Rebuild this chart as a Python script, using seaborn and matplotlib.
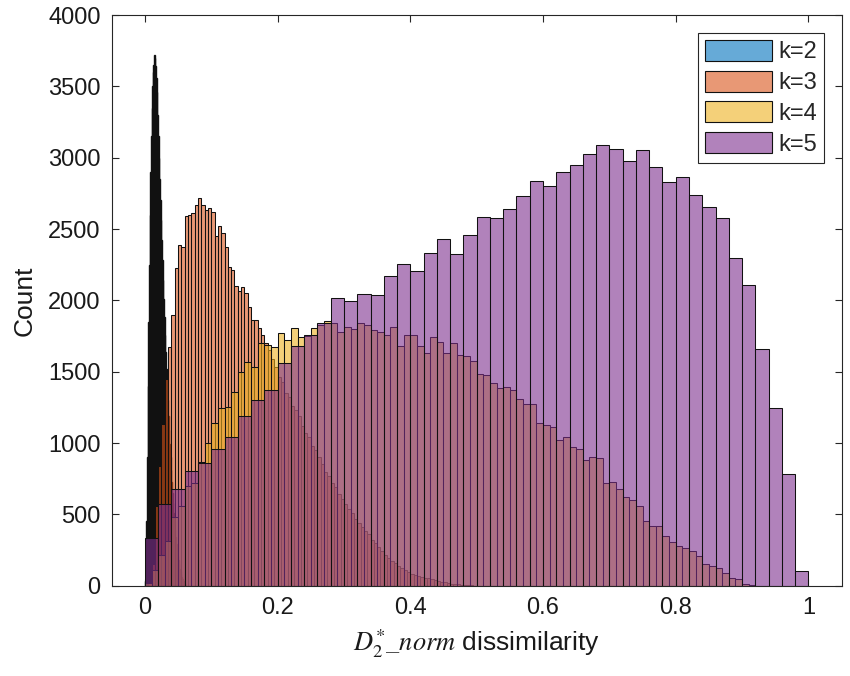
import matplotlib
matplotlib.use('Agg')
import matplotlib.pyplot as plt
import numpy as np
import pandas as pd
import seaborn as sns
from matplotlib.colors import to_rgba
from matplotlib.patches import Patch
from matplotlib.ticker import FuncFormatter

# bin widths (every series starts at 0)
width_k2 = 0.001
width_k3 = 0.005
width_k4 = 0.01
width_k5 = 0.02

counts_k2 = [30, 150, 450, 900, 1400, 1850, 2250, 2600, 2900, 3150,
             3350, 3500, 3600, 3650, 3720, 3700, 3640, 3560, 3460, 3300,
             3150, 3000, 2850, 2700, 2560, 2420, 2280, 2140, 2010, 1880,
             1760, 1640, 1520, 1410, 1300, 1190, 1090, 990, 900, 810,
             730, 650, 580, 510, 450, 390, 340, 290, 250, 210,
             180, 150, 120, 100, 80, 60, 50, 40, 30, 20, 15]

counts_k3 = [0, 20, 150, 560, 840, 1130, 1450, 1675, 1897, 2230,
             2386, 2375, 2588, 2600, 2610, 2668, 2720, 2668, 2633, 2645,
             2621, 2448, 2521, 2470, 2376, 2236, 2212, 2100, 2068, 2095,
             2049, 1955, 1862, 1862, 1804, 1757, 1700, 1655, 1590, 1530,
             1460, 1430, 1350, 1320, 1260, 1230, 1190, 1120, 1070, 1040,
             980, 950, 900, 850, 800, 770, 720, 690, 640, 610,
             570, 540, 510, 470, 440, 410, 380, 360, 320, 300,
             270, 240, 215, 192, 170, 157, 135, 122, 108, 99,
             85, 75, 68, 63, 56, 52, 45, 40, 33, 28,
             25, 19, 15, 12, 10, 7, 5, 3, 2]

counts_k4 = [20, 110, 215, 310, 480, 560, 700, 720, 870, 998,
             1142, 1243, 1250, 1360, 1500, 1570, 1530, 1699, 1690, 1670,
             1769, 1722, 1808, 1741, 1750, 1804, 1830, 1857, 1839, 1780,
             1815, 1797, 1839, 1827, 1792, 1780, 1757, 1815, 1680, 1757,
             1757, 1680, 1628, 1745, 1710, 1633, 1699, 1617, 1610, 1577,
             1481, 1477, 1418, 1383, 1395, 1371, 1308, 1273, 1273, 1138,
             1126, 1114, 1021, 1045, 974, 956, 881, 904, 893, 717,
             725, 676, 624, 601, 559, 456, 418, 421, 348, 308,
             280, 266, 245, 208, 154, 138, 122, 91, 52, 47,
             12, 4]

counts_k5 = [332, 570, 675, 804, 862, 956, 1044, 1189, 1301, 1371,
             1563, 1682, 1757, 1839, 2014, 1997, 2044, 2035, 2170, 2254,
             2203, 2329, 2432, 2327, 2456, 2584, 2577, 2638, 2731, 2838,
             2801, 2897, 2948, 3025, 3090, 3060, 2976, 3053, 2936, 2827,
             2866, 2738, 2654, 2577, 2298, 2105, 1659, 1243, 781, 105]

labels = ['k=2', 'k=3', 'k=4', 'k=5']
colors = ['#0072BD', '#D95319', '#EDB120', '#7E2F8E']
edge_color = '#111111'
axis_color = '#262626'

sns.set_style('ticks')
plt.rcParams['font.family'] = ['Liberation Sans', 'DejaVu Sans']
plt.rcParams['mathtext.fontset'] = 'stix'


def draw_hist(ax, counts, width, color, lw):
    """Draw one pre-binned histogram with MATLAB-like styling"""
    n = len(counts)
    df = pd.DataFrame({'value': (np.arange(n) + 0.5) * width,
                       'count': counts})
    sns.histplot(data=df, x='value', weights='count', binwidth=width,
                 binrange=(0, n * width), color=color, alpha=0.6,
                 edgecolor=edge_color, linewidth=lw, ax=ax)


fig = plt.figure(figsize=(8.5, 6.76), dpi=100)
ax = fig.add_axes([0.1314, 0.1336, 0.8588, 0.8442])

series = [(counts_k2, width_k2, 1.0), (counts_k3, width_k3, 0.75),
          (counts_k4, width_k4, 0.75), (counts_k5, width_k5, 0.75)]
for (counts, width, lw), color in zip(series, colors):
    draw_hist(ax, counts, width, color, lw)

ax.set_xlim(-0.05, 1.05)
ax.set_ylim(0, 4000)
ax.set_xticks([0, 0.2, 0.4, 0.6, 0.8, 1])
ax.set_yticks(np.arange(0, 4001, 500))
ax.xaxis.set_major_formatter(FuncFormatter(lambda v, p: '{:g}'.format(v)))

for side in ['top', 'right', 'left', 'bottom']:
    ax.spines[side].set_visible(True)
    ax.spines[side].set_color(axis_color)
    ax.spines[side].set_linewidth(0.8)
ax.tick_params(direction='in', length=5, width=0.8, color=axis_color,
               top=True, right=True, labelsize=17, pad=8, labelcolor='#1a1a1a')

ax.set_ylabel('Count', fontsize=19, color='#1a1a1a', labelpad=8)
ax.set_xlabel(r'$D_2^{*}\_norm$ dissimilarity', fontsize=19,
              color='#1a1a1a', labelpad=6)

handles = [Patch(facecolor=to_rgba(c, 0.6), edgecolor=edge_color, linewidth=0.8)
           for c in colors]
leg = ax.legend(handles, labels, loc='upper right', fontsize=17,
                handlelength=2.85, handleheight=1.0, handletextpad=0.25,
                labelspacing=0.3, borderpad=0.3, borderaxespad=0.75,
                fancybox=False, framealpha=1)
leg.get_frame().set_edgecolor(axis_color)
leg.get_frame().set_linewidth(0.8)

plt.savefig('out.png', dpi=100)
